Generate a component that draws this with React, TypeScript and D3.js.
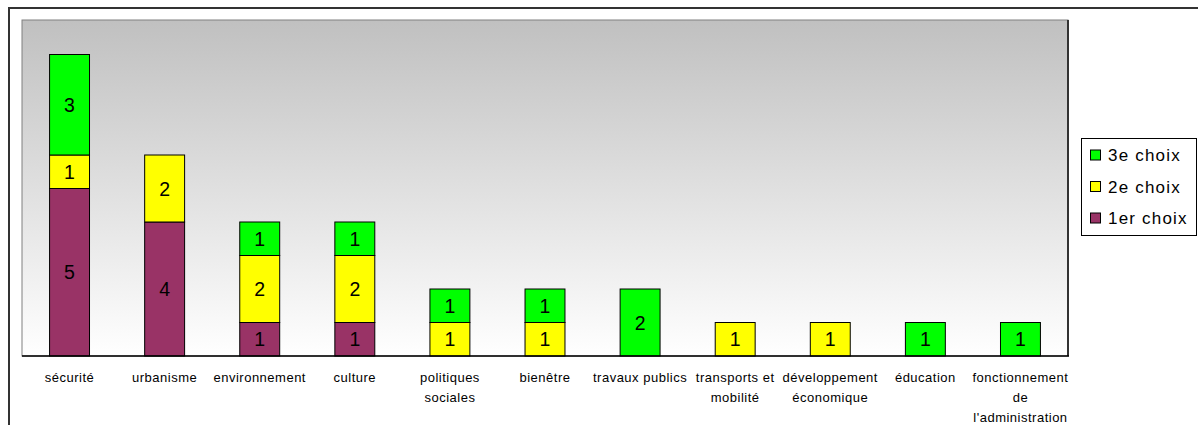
import React from "react";
import * as d3 from "d3";

const categories: string[][] = [
  ["sécurité"],
  ["urbanisme"],
  ["environnement"],
  ["culture"],
  ["politiques", "sociales"],
  ["bienêtre"],
  ["travaux publics"],
  ["transports et", "mobilité"],
  ["développement", "économique"],
  ["éducation"],
  ["fonctionnement", "de", "l'administration"],
];
const choix1 = [5, 4, 1, 1, 0, 0, 0, 0, 0, 0, 0];
const choix2 = [1, 2, 2, 2, 1, 1, 0, 1, 1, 0, 0];
const choix3 = [3, 0, 1, 1, 1, 1, 2, 0, 0, 1, 1];
const seriesNames = ["1er choix", "2e choix", "3e choix"];
const seriesColors = ["#993366", "#FFFF00", "#00FF00"];
const yMax = 10;

const W = 1198;
const H = 425;
const plot = { left: 22, top: 21, right: 1068, bottom: 356 };
const FONT = "Arial, 'Liberation Sans', sans-serif";

export default function App() {
  const keys = categories.map((c) => c.join(" "));
  const x = d3
    .scaleBand<string>()
    .domain(keys)
    .range([plot.left, plot.right])
    .paddingInner(0.58)
    .paddingOuter(0.29);
  const y = d3.scaleLinear().domain([0, yMax]).range([plot.bottom, plot.top]);

  const rows = keys.map((k, i) => ({ key: k, s0: choix1[i], s1: choix2[i], s2: choix3[i] }));
  const stacked = d3.stack<any>().keys(["s0", "s1", "s2"])(rows);

  const legendItems = [2, 1, 0];

  return (
    <svg
      width={W}
      height={H}
      style={{ position: "fixed", left: 0, top: 0, fontFamily: FONT }}
    >
      <defs>
        <linearGradient id="bg" x1="0" y1="0" x2="0" y2="1">
          <stop offset="0" stopColor="#C0C0C0" />
          <stop offset="1" stopColor="#FFFFFF" />
        </linearGradient>
      </defs>
      <rect x={0} y={0} width={W} height={H} fill="#fff" />
      <rect x={9} y={8} width={1200} height={440} fill="#fff" stroke="#333" strokeWidth={2} />
      <rect
        x={plot.left}
        y={plot.top - 1}
        width={plot.right - plot.left}
        height={plot.bottom - plot.top + 1}
        fill="url(#bg)"
        stroke="#808080"
        strokeWidth={1}
      />
      <line x1={plot.right} y1={plot.top - 1} x2={plot.right} y2={plot.bottom} stroke="#333" strokeWidth={2} />
      {stacked.map((layer, si) =>
        layer.map((d, i) => {
          const v = d[1] - d[0];
          if (v <= 0) return null;
          const bx = x(keys[i])!;
          const y0 = y(d[0]);
          const y1 = y(d[1]);
          return (
            <g key={`${si}-${i}`}>
              <rect
                x={bx}
                y={y1}
                width={x.bandwidth()}
                height={y0 - y1}
                fill={seriesColors[si]}
                stroke="#000"
                strokeWidth={1}
              />
              <text
                x={bx + x.bandwidth() / 2}
                y={(y0 + y1) / 2}
                textAnchor="middle"
                dominantBaseline="central"
                fontSize={19.5}
                fill="#000"
              >
                {v}
              </text>
            </g>
          );
        })
      )}
      <line x1={plot.left} y1={plot.bottom} x2={plot.right + 1} y2={plot.bottom} stroke="#000" strokeWidth={1.5} />
      {categories.map((lines, i) => (
        <text
          key={i}
          x={x(keys[i])! + x.bandwidth() / 2}
          y={377}
          textAnchor="middle"
          fontSize={13}
          letterSpacing={0.5}
          fill="#000"
        >
          {lines.map((l, j) => (
            <tspan key={j} x={x(keys[i])! + x.bandwidth() / 2} y={377 + j * 20} dominantBaseline="central">
              {l}
            </tspan>
          ))}
        </text>
      ))}
      <rect x={1081.5} y={138.5} width={115} height={97} fill="#fff" stroke="#000" strokeWidth={1} />
      {legendItems.map((si, j) => {
        const cy = 155.5 + j * 31.5;
        return (
          <g key={si}>
            <rect x={1090.5} y={cy - 5.5} width={10} height={10} fill={seriesColors[si]} stroke="#000" strokeWidth={1} />
            <text x={1108} y={cy} dominantBaseline="central" fontSize={17} letterSpacing={1.2} fill="#000">
              {seriesNames[si]}
            </text>
          </g>
        );
      })}
    </svg>
  );
}
